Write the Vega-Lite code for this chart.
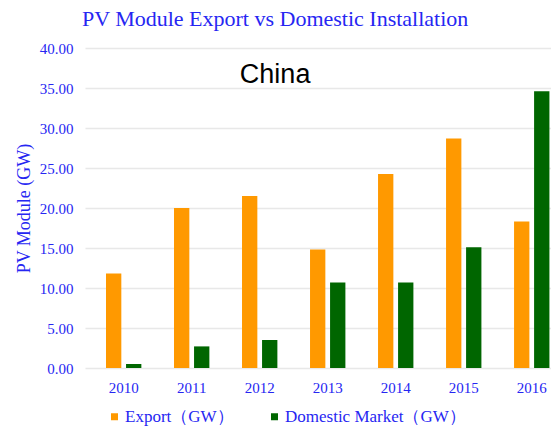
{
  "$schema": "https://vega.github.io/schema/vega-lite/v6.json",
  "autosize": "none",
  "width": 466,
  "height": 320,
  "padding": {"left": 85, "top": 48, "right": 0, "bottom": 59},
  "background": "white",
  "title": {
    "text": "PV Module Export vs Domestic Installation",
    "subtitle": "China",
    "anchor": "middle",
    "frame": "bounds",
    "font": "Liberation Serif",
    "fontSize": 22,
    "fontWeight": "normal",
    "color": "#2626F2",
    "subtitleFont": "Liberation Sans",
    "subtitleFontSize": 27,
    "subtitleColor": "#000000",
    "offset": -48,
    "subtitlePadding": 31,
    "dx": -8
  },
  "data": {
    "values": [
      {"year": "2010", "series": "Export（GW）", "value": 11.8},
      {"year": "2011", "series": "Export（GW）", "value": 20.0},
      {"year": "2012", "series": "Export（GW）", "value": 21.5},
      {"year": "2013", "series": "Export（GW）", "value": 14.8},
      {"year": "2014", "series": "Export（GW）", "value": 24.25},
      {"year": "2015", "series": "Export（GW）", "value": 28.7},
      {"year": "2016", "series": "Export（GW）", "value": 18.3},
      {"year": "2010", "series": "Domestic Market（GW）", "value": 0.5},
      {"year": "2011", "series": "Domestic Market（GW）", "value": 2.7},
      {"year": "2012", "series": "Domestic Market（GW）", "value": 3.5},
      {"year": "2013", "series": "Domestic Market（GW）", "value": 10.7},
      {"year": "2014", "series": "Domestic Market（GW）", "value": 10.7},
      {"year": "2015", "series": "Domestic Market（GW）", "value": 15.1},
      {"year": "2016", "series": "Domestic Market（GW）", "value": 34.6}
    ]
  },
  "mark": {"type": "bar"},
  "encoding": {
    "x": {
      "field": "year",
      "type": "nominal",
      "scale": {"paddingInner": 0.48, "paddingOuter": 0.166, "align": 0.93},
      "axis": {
        "title": null,
        "labelAngle": 0,
        "domain": false,
        "ticks": false,
        "grid": false,
        "labelPadding": 12,
        "labelFont": "Liberation Serif",
        "labelFontSize": 15,
        "labelColor": "#2626F2"
      }
    },
    "xOffset": {
      "field": "series",
      "type": "nominal",
      "sort": ["Export（GW）", "Domestic Market（GW）"],
      "scale": {"paddingInner": 0.235, "paddingOuter": 0}
    },
    "y": {
      "field": "value",
      "type": "quantitative",
      "scale": {"domain": [0, 40], "nice": false},
      "axis": {
        "title": "PV Module (GW)",
        "titleFont": "Liberation Serif",
        "titleFontSize": 18,
        "titleFontWeight": "normal",
        "titleColor": "#2626F2",
        "titlePadding": 6,
        "values": [0, 5, 10, 15, 20, 25, 30, 35, 40],
        "format": ".2f",
        "domain": false,
        "ticks": false,
        "labelPadding": 12,
        "labelFont": "Liberation Serif",
        "labelFontSize": 15,
        "labelColor": "#2626F2",
        "gridColor": "#e8e8e8",
        "gridWidth": 1.5
      }
    },
    "color": {
      "field": "series",
      "type": "nominal",
      "sort": ["Export（GW）", "Domestic Market（GW）"],
      "scale": {"range": ["#FF9900", "#006600"]},
      "legend": {
        "title": null,
        "orient": "none",
        "direction": "horizontal",
        "legendX": 21,
        "legendY": 360,
        "symbolType": "square",
        "symbolSize": 49,
        "symbolStrokeWidth": 0,
        "labelFont": "Liberation Serif",
        "labelFontSize": 17,
        "labelLimit": 400,
        "labelColor": "#2626F2",
        "labelOffset": 2,
        "columnPadding": 32
      }
    }
  },
  "config": {
    "view": {"stroke": null}
  }
}
